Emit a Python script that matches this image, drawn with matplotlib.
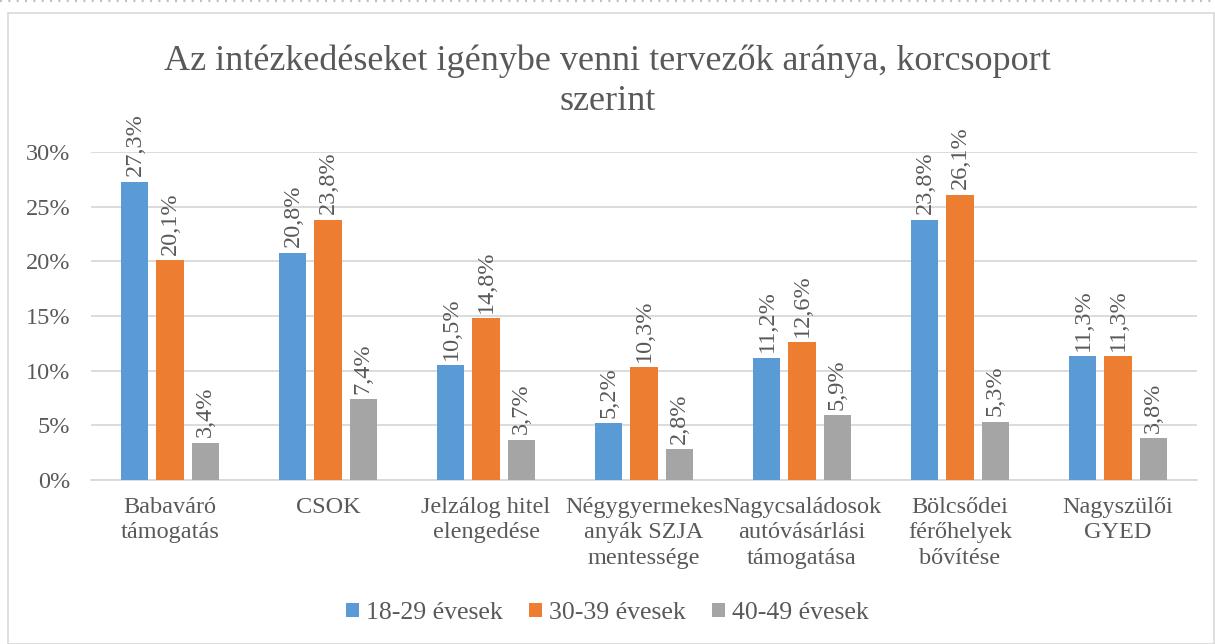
import matplotlib
matplotlib.use('Agg')
import matplotlib.pyplot as plt
import numpy as np
from matplotlib.patches import Rectangle
from matplotlib.lines import Line2D

kategoriak = ['Babaváró\ntámogatás', 'CSOK', 'Jelzálog hitel\nelengedése',
              'Négygyermekes\nanyák SZJA\nmentessége', 'Nagycsaládosok\nautóvásárlási\ntámogatása',
              'Bölcsődei\nférőhelyek\nbővítése', 'Nagyszülői\nGYED']
sorozatok = ['18-29 évesek', '30-39 évesek', '40-49 évesek']
ertekek_18_29 = [27.3, 20.8, 10.5, 5.2, 11.2, 23.8, 11.3]
ertekek_30_39 = [20.1, 23.8, 14.8, 10.3, 12.6, 26.1, 11.3]
ertekek_40_49 = [3.4, 7.4, 3.7, 2.8, 5.9, 5.3, 3.8]
szinek = ['#5B9BD5', '#ED7D31', '#A5A5A5']

plt.rcParams['font.family'] = ['Liberation Serif', 'DejaVu Serif']
szoveg = '#595959'
fs = 17.5

fig = plt.figure(figsize=(12.15, 6.44), dpi=100)
W, H = 1215, 644
ax = fig.add_axes([91 / W, 1 - 480 / H, (1197 - 91) / W, (480 - 152) / H])

# keret es pontozott vonal
fig.patches.append(Rectangle((8 / W, 0), (1214 - 8) / W, 1 - 13 / H, transform=fig.transFigure,
                             fill=False, edgecolor='#D9D9D9', linewidth=1.2))
fig.lines.append(Line2D([0, 1], [1 - 1 / H, 1 - 1 / H], transform=fig.transFigure,
                        color='#BFBFBF', linewidth=1.5, linestyle=(0, (1, 3))))

x = np.arange(len(kategoriak))
w = 0.171
d = 0.222
for i, (vals, nev) in enumerate(zip([ertekek_18_29, ertekek_30_39, ertekek_40_49], sorozatok)):
    pos = x + (i - 1) * d
    ax.bar(pos, vals, width=w, color=szinek[i], label=nev, zorder=3)
    for p, v in zip(pos, vals):
        ax.annotate(('%.1f%%' % v).replace('.', ','), (p, v), xytext=(0, 4),
                    textcoords='offset points', rotation=90, ha='center', va='bottom',
                    fontsize=fs, color=szoveg)

ax.set_xlim(-0.5, len(kategoriak) - 0.5)
ax.set_ylim(0, 30)
ax.set_yticks([0, 5, 10, 15, 20, 25, 30])
ax.set_yticklabels(['%d%%' % t for t in [0, 5, 10, 15, 20, 25, 30]])
ax.yaxis.grid(True, color='#D9D9D9', linewidth=1.3, zorder=0)
ax.set_axisbelow(True)
ax.set_xticks(x)
ax.set_xticklabels(kategoriak, linespacing=1.3)
ax.tick_params(axis='both', length=0, labelsize=fs, labelcolor=szoveg)
ax.tick_params(axis='x', pad=12)
ax.tick_params(axis='y', pad=15)
for s in ['top', 'right', 'left']:
    ax.spines[s].set_visible(False)
ax.spines['bottom'].set_color('#D9D9D9')
ax.spines['bottom'].set_linewidth(1.3)

fig.text(0.5, 1 - 81 / H, 'Az intézkedéseket igénybe venni tervezők aránya, korcsoport\nszerint',
         ha='center', va='center', fontsize=26, color=szoveg, linespacing=1.3)

fig.legend(loc='center', bbox_to_anchor=(0.5, 1 - 613 / H), ncol=3, frameon=False,
           fontsize=18.5, labelcolor=szoveg, handlelength=0.5, handleheight=0.5,
           handletextpad=0.3, columnspacing=1.0)

plt.savefig('out.png', dpi=100)
